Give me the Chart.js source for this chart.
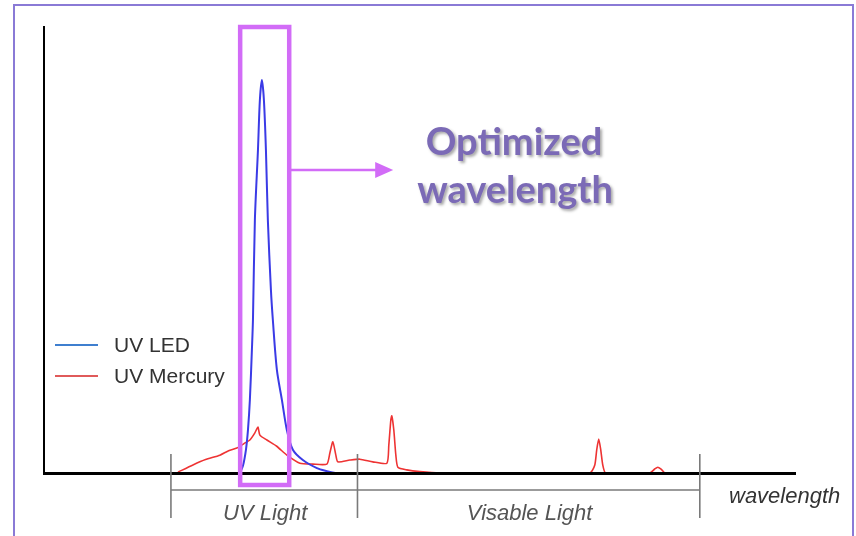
<!DOCTYPE html>
<html>
<head>
<meta charset="utf-8">
<script src="https://cdn.jsdelivr.net/npm/chart.js@4.4.0/dist/chart.umd.min.js"></script>
<style>
  html, body { margin: 0; padding: 0; background: #fff; }
  #wrap { width: 856px; height: 536px; position: relative; }
</style>
</head>
<body>
<div id="wrap"><canvas id="spectrumChart" width="856" height="536"></canvas></div>
<script>
// wavelength (nm) / relative intensity
const ledWavelength = [271.7, 274.9, 278.0, 280.1, 282.1, 284.2, 285.3, 287.3, 290.5, 292.5, 294.6, 296.7, 298.8, 300.8, 304.0, 306.0, 310.2, 315.4, 320.6, 326.8, 337.2, 351.8, 362.2, 370.5];
const ledIntensity  = [0, 1.6, 5.2, 9.6, 16.4, 27.6, 34.3, 56.7, 72.4, 83.6, 88.1, 83.6, 72.4, 56.7, 41.0, 34.3, 23.1, 16.4, 9.6, 5.2, 2.9, 1.1, 0.4, 0];

const mercuryWavelength = [207.3, 222.9, 236.0, 250.9, 260.0, 268.6, 276.0, 282.1, 287.3, 290.5, 292.5, 299.8, 310.0, 320.6, 334.1, 347.6, 362.2, 365.3, 368.4, 371.5, 373.6, 386.1, 396.5, 410.0, 424.6, 426.6, 428.7, 429.7, 431.8, 433.9, 436.0, 445.3, 458.9, 479.6, 635.6, 640.8, 642.8, 644.9, 647.0, 649.1, 652.2, 697.9, 703.1, 706.3, 709.4, 713.5];
const mercuryIntensity  = [0.2, 1.8, 3.0, 4.0, 5.0, 5.6, 6.6, 7.4, 9.0, 10.3, 8.5, 7.4, 6.0, 4.0, 2.2, 2.0, 2.0, 4.5, 7.0, 4.0, 2.5, 2.9, 3.1, 2.5, 2.2, 6.3, 11.9, 12.8, 9.6, 4.0, 1.3, 0.7, 0.3, 0, 0, 1.8, 5.2, 7.6, 5.2, 1.8, 0, 0, 0.9, 1.3, 0.9, 0];

const seriesNames = ["UV LED", "UV Mercury"];
const regionBounds = [200, 394, 750];
const regionNames = ["UV Light", "Visable Light"];
const highlightRange = [272, 323];

const toPoints = (xs, ys) => xs.map((x, i) => ({ x: x, y: ys[i] }));

// legend, region brackets, highlight box and callout
const annotations = {
  id: "annotations",
  afterDraw(chart) {
    const ctx = chart.ctx;
    const xs = chart.scales.x;
    const area = chart.chartArea;
    ctx.save();

    // outer frame
    ctx.strokeStyle = "#8a7ad6";
    ctx.lineWidth = 2;
    ctx.beginPath();
    ctx.moveTo(14, 536);
    ctx.lineTo(14, 5);
    ctx.lineTo(853, 5);
    ctx.lineTo(853, 536);
    ctx.stroke();

    // region brackets under the axis
    ctx.strokeStyle = "#7a7a7a";
    ctx.lineWidth = 1.6;
    const bx = regionBounds.map((v) => xs.getPixelForValue(v));
    bx.forEach((px) => {
      ctx.beginPath();
      ctx.moveTo(px, area.bottom - 19);
      ctx.lineTo(px, area.bottom + 45);
      ctx.stroke();
    });
    ctx.beginPath();
    ctx.moveTo(bx[0], area.bottom + 17);
    ctx.lineTo(bx[bx.length - 1], area.bottom + 17);
    ctx.stroke();

    ctx.fillStyle = "#555";
    ctx.font = "italic 22px 'Liberation Sans', Arial, sans-serif";
    ctx.textAlign = "center";
    ctx.textBaseline = "middle";
    regionNames.forEach((name, i) => {
      ctx.fillText(name, (bx[i] + bx[i + 1]) / 2 + 1, area.bottom + 41);
    });
    ctx.fillStyle = "#333";
    ctx.font = "italic 22px 'Liberation Sans', Arial, sans-serif";
    ctx.textAlign = "left";
    ctx.fillText("wavelength", 729, area.bottom + 24);

    // legend
    ctx.font = "21px 'Liberation Sans', Arial, sans-serif";
    chart.data.datasets.forEach((ds, i) => {
      const y = 345 + i * 31;
      ctx.strokeStyle = ds.legendColor;
      ctx.lineWidth = 2;
      ctx.beginPath();
      ctx.moveTo(55, y);
      ctx.lineTo(98, y);
      ctx.stroke();
      ctx.fillStyle = "#333";
      ctx.fillText(ds.label, 114, y + 1);
    });

    // highlight box + arrow
    const hx0 = xs.getPixelForValue(highlightRange[0]);
    const hx1 = xs.getPixelForValue(highlightRange[1]);
    ctx.strokeStyle = "#d26cf7";
    ctx.lineWidth = 4.5;
    ctx.strokeRect(hx0, area.top, hx1 - hx0, area.bottom - area.top + 12);
    const ay = 170;
    ctx.lineWidth = 2.5;
    ctx.beginPath();
    ctx.moveTo(hx1, ay);
    ctx.lineTo(hx1 + 88, ay);
    ctx.stroke();
    ctx.fillStyle = "#d26cf7";
    ctx.beginPath();
    ctx.moveTo(hx1 + 104, ay);
    ctx.lineTo(hx1 + 86, ay - 8);
    ctx.lineTo(hx1 + 86, ay + 8);
    ctx.closePath();
    ctx.fill();

    // callout text
    ctx.shadowColor = "rgba(0,0,0,0.35)";
    ctx.shadowOffsetX = 2;
    ctx.shadowOffsetY = 2;
    ctx.shadowBlur = 3;
    ctx.fillStyle = "#7b6ab6";
    ctx.font = "bold 38px Lato, 'Open Sans', sans-serif";
    ctx.textAlign = "center";
    ctx.fillText("Optimized", 514, 143);
    ctx.fillText("wavelength", 515, 191);
    ctx.restore();
  },
};

const ctx = document.getElementById("spectrumChart").getContext("2d");
new Chart(ctx, {
  type: "scatter",
  data: {
    datasets: [
      {
        label: seriesNames[0],
        data: toPoints(ledWavelength, ledIntensity),
        showLine: true,
        borderColor: "#3b3be6",
        legendColor: "#3f7fcf",
        borderWidth: 2,
        pointRadius: 0,
        tension: 0.3,
      },
      {
        label: seriesNames[1],
        data: toPoints(mercuryWavelength, mercuryIntensity),
        showLine: true,
        borderColor: "#ee3333",
        legendColor: "#e05a5a",
        borderWidth: 1.6,
        pointRadius: 0,
        tension: 0.2,
      },
    ],
  },
  options: {
    responsive: false,
    animation: false,
    devicePixelRatio: 1,
    layout: { padding: { left: 44, top: 27, right: 61, bottom: 63 } },
    plugins: { legend: { display: false }, tooltip: { enabled: false } },
    scales: {
      x: {
        type: "linear",
        min: 68,
        max: 849,
        grid: { display: false },
        ticks: { display: false },
        // axis line drawn over the series, like the original
        border: { color: "#000", width: 3, z: 1 },
        afterFit: (s) => { s.height = 0; },
      },
      y: {
        min: 0,
        max: 100,
        grid: { display: false },
        ticks: { display: false },
        border: { color: "#000", width: 2 },
        afterFit: (s) => { s.width = 0; },
      },
    },
  },
  plugins: [annotations],
});
</script>
</body>
</html>
